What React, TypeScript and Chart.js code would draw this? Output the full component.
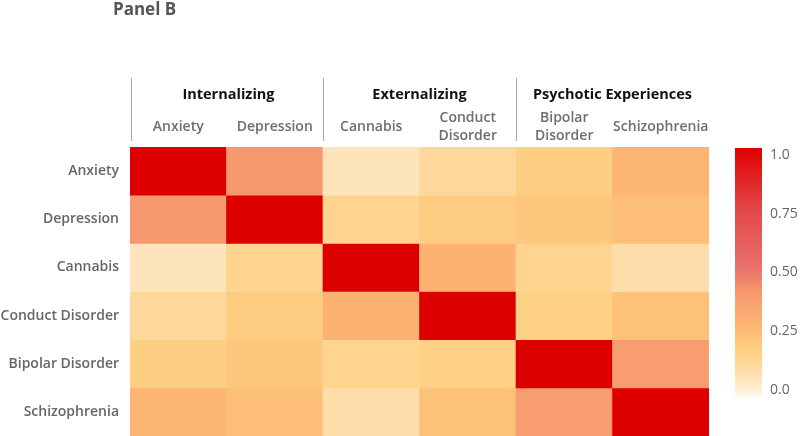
import React, { useEffect, useRef } from 'react';
import { Chart, registerables } from 'chart.js';
Chart.register(...registerables);

const columnLabels: string[][] = [['Anxiety'], ['Depression'], ['Cannabis'], ['Conduct', 'Disorder'], ['Bipolar', 'Disorder'], ['Schizophrenia']];
const rowLabels = ['Anxiety', 'Depression', 'Cannabis', 'Conduct Disorder', 'Bipolar Disorder', 'Schizophrenia'];
const groupLabels = ['Internalizing', 'Externalizing', 'Psychotic Experiences'];
const groupStart = [0, 2, 4];
const groupEnd = [1, 3, 5];

const rowAnxiety = [1.0, 0.42, 0.07, 0.13, 0.19, 0.29];
const rowDepression = [0.42, 1.0, 0.16, 0.2, 0.22, 0.25];
const rowCannabis = [0.07, 0.16, 1.0, 0.3, 0.16, 0.1];
const rowConduct = [0.13, 0.2, 0.3, 1.0, 0.18, 0.24];
const rowBipolar = [0.19, 0.22, 0.16, 0.18, 1.0, 0.4];
const rowSchizo = [0.29, 0.25, 0.1, 0.24, 0.4, 1.0];
const matrix = [rowAnxiety, rowDepression, rowCannabis, rowConduct, rowBipolar, rowSchizo];

const colorbarTicks = [1.0, 0.75, 0.5, 0.25, 0.0];
const colorbarTickLabels = ['1.0', '0.75', '0.50', '0.25', '0.0'];

const stopValues = [0, 0.07, 0.13, 0.19, 0.24, 0.29, 0.42, 0.52, 0.75, 1.0];
const stopColors = ['#fff7ec', '#fee4bb', '#fed89a', '#fecf82', '#fdc278', '#fcb572', '#f7996f', '#e8706c', '#e44848', '#de0000'];

function hexToRgb(h: string) {
  const n = parseInt(h.slice(1), 16);
  return [(n >> 16) & 255, (n >> 8) & 255, n & 255];
}
function colorFor(v: number) {
  for (let i = 1; i < stopValues.length; i++) {
    if (v <= stopValues[i]) {
      const t = (v - stopValues[i - 1]) / (stopValues[i] - stopValues[i - 1]);
      const a = hexToRgb(stopColors[i - 1]);
      const b = hexToRgb(stopColors[i]);
      const c = a.map((x, k) => Math.round(x + (b[k] - x) * t));
      return `rgb(${c[0]},${c[1]},${c[2]})`;
    }
  }
  return stopColors[stopColors.length - 1];
}

const FONT = '"Open Sans", sans-serif';

const overlayPlugin = {
  id: 'overlay',
  afterDraw(chart: any) {
    const ctx = chart.ctx;
    const xs = chart.scales.x;
    const w = xs.getPixelForValue(1) - xs.getPixelForValue(0);
    ctx.save();
    // title
    ctx.fillStyle = '#555555';
    ctx.font = `bold 17px ${FONT}`;
    ctx.textAlign = 'left';
    ctx.textBaseline = 'alphabetic';
    ctx.fillText('Panel B', 113, 15);
    // group separators and headers
    ctx.strokeStyle = '#aaaaaa';
    ctx.lineWidth = 1;
    for (let g = 0; g < groupLabels.length; g++) {
      const left = xs.getPixelForValue(groupStart[g]) - w / 2;
      const right = xs.getPixelForValue(groupEnd[g]) + w / 2;
      const lx = Math.round(left) + 0.5 + (g === 0 ? 1 : 0);
      ctx.beginPath();
      ctx.moveTo(lx, 78);
      ctx.lineTo(lx, 141);
      ctx.stroke();
      ctx.fillStyle = '#111111';
      ctx.font = `bold 14.5px ${FONT}`;
      ctx.textAlign = 'center';
      ctx.textBaseline = 'middle';
      ctx.fillText(groupLabels[g], (left + right) / 2 + (g === 0 ? 2 : 0), 95);
    }
    // colorbar
    const cbL = 735, cbR = 762, cbT = 148, cbB = 397;
    const grad = ctx.createLinearGradient(0, cbB, 0, cbT);
    stopValues.forEach((v, i) => grad.addColorStop(v, stopColors[i]));
    ctx.fillStyle = grad;
    ctx.fillRect(cbL, cbT, cbR - cbL, cbB - cbT);
    ctx.fillStyle = '#666666';
    ctx.font = `14px ${FONT}`;
    ctx.textAlign = 'left';
    ctx.textBaseline = 'middle';
    const yTop = 155, yBot = 390;
    colorbarTicks.forEach((v, i) => {
      const y = yBot - v * (yBot - yTop);
      ctx.fillText(colorbarTickLabels[i], 770, y);
    });
    ctx.restore();
  },
};

export default function App() {
  const ref = useRef<HTMLCanvasElement>(null);
  useEffect(() => {
    const datasets = matrix.map((row, i) => ({
      label: rowLabels[i],
      data: row.map(() => 1),
      backgroundColor: row.map((v) => colorFor(v)),
      borderWidth: 0,
      categoryPercentage: 1,
      barPercentage: 1,
      stack: 'cells',
    }));
    const chart = new Chart(ref.current!, {
      type: 'bar',
      data: { labels: columnLabels as any, datasets },
      options: {
        animation: false,
        responsive: true,
        maintainAspectRatio: false,
        events: [],
        layout: { padding: { left: 0, right: 91, top: 0, bottom: 0 } },
        plugins: { legend: { display: false }, tooltip: { enabled: false }, title: { display: false } },
        scales: {
          x: {
            type: 'category',
            position: 'top',
            stacked: true,
            grid: { display: false, drawTicks: false },
            border: { display: false },
            ticks: {
              color: '#6e6e6e',
              font: { family: FONT, size: 14, weight: 600, lineHeight: 1.3 },
              padding: 11,
              maxRotation: 0,
              autoSkip: false,
              crossAlign: 'center',
            } as any,
            afterFit: (s: any) => { s.height = 147; s.paddingLeft = 0; s.paddingRight = 0; },
          },
          y: {
            type: 'linear',
            min: 0,
            max: 6,
            reverse: true,
            stacked: true,
            display: false,
          },
          y2: {
            type: 'category',
            labels: rowLabels,
            position: 'left',
            offset: true,
            grid: { display: false, drawTicks: false },
            border: { display: false },
            ticks: {
              color: '#666666',
              font: { family: FONT, size: 14, weight: 600 },
              padding: 11,
              autoSkip: false,
            },
            afterFit: (s: any) => { s.width = 130; s.paddingTop = 0; s.paddingBottom = 0; },
          },
        },
      },
      plugins: [overlayPlugin],
    });
    return () => chart.destroy();
  }, []);
  return (
    <div style={{ position: 'fixed', left: 0, top: 0, width: 800, height: 436, background: '#fff' }}>
      <canvas ref={ref} />
    </div>
  );
}
